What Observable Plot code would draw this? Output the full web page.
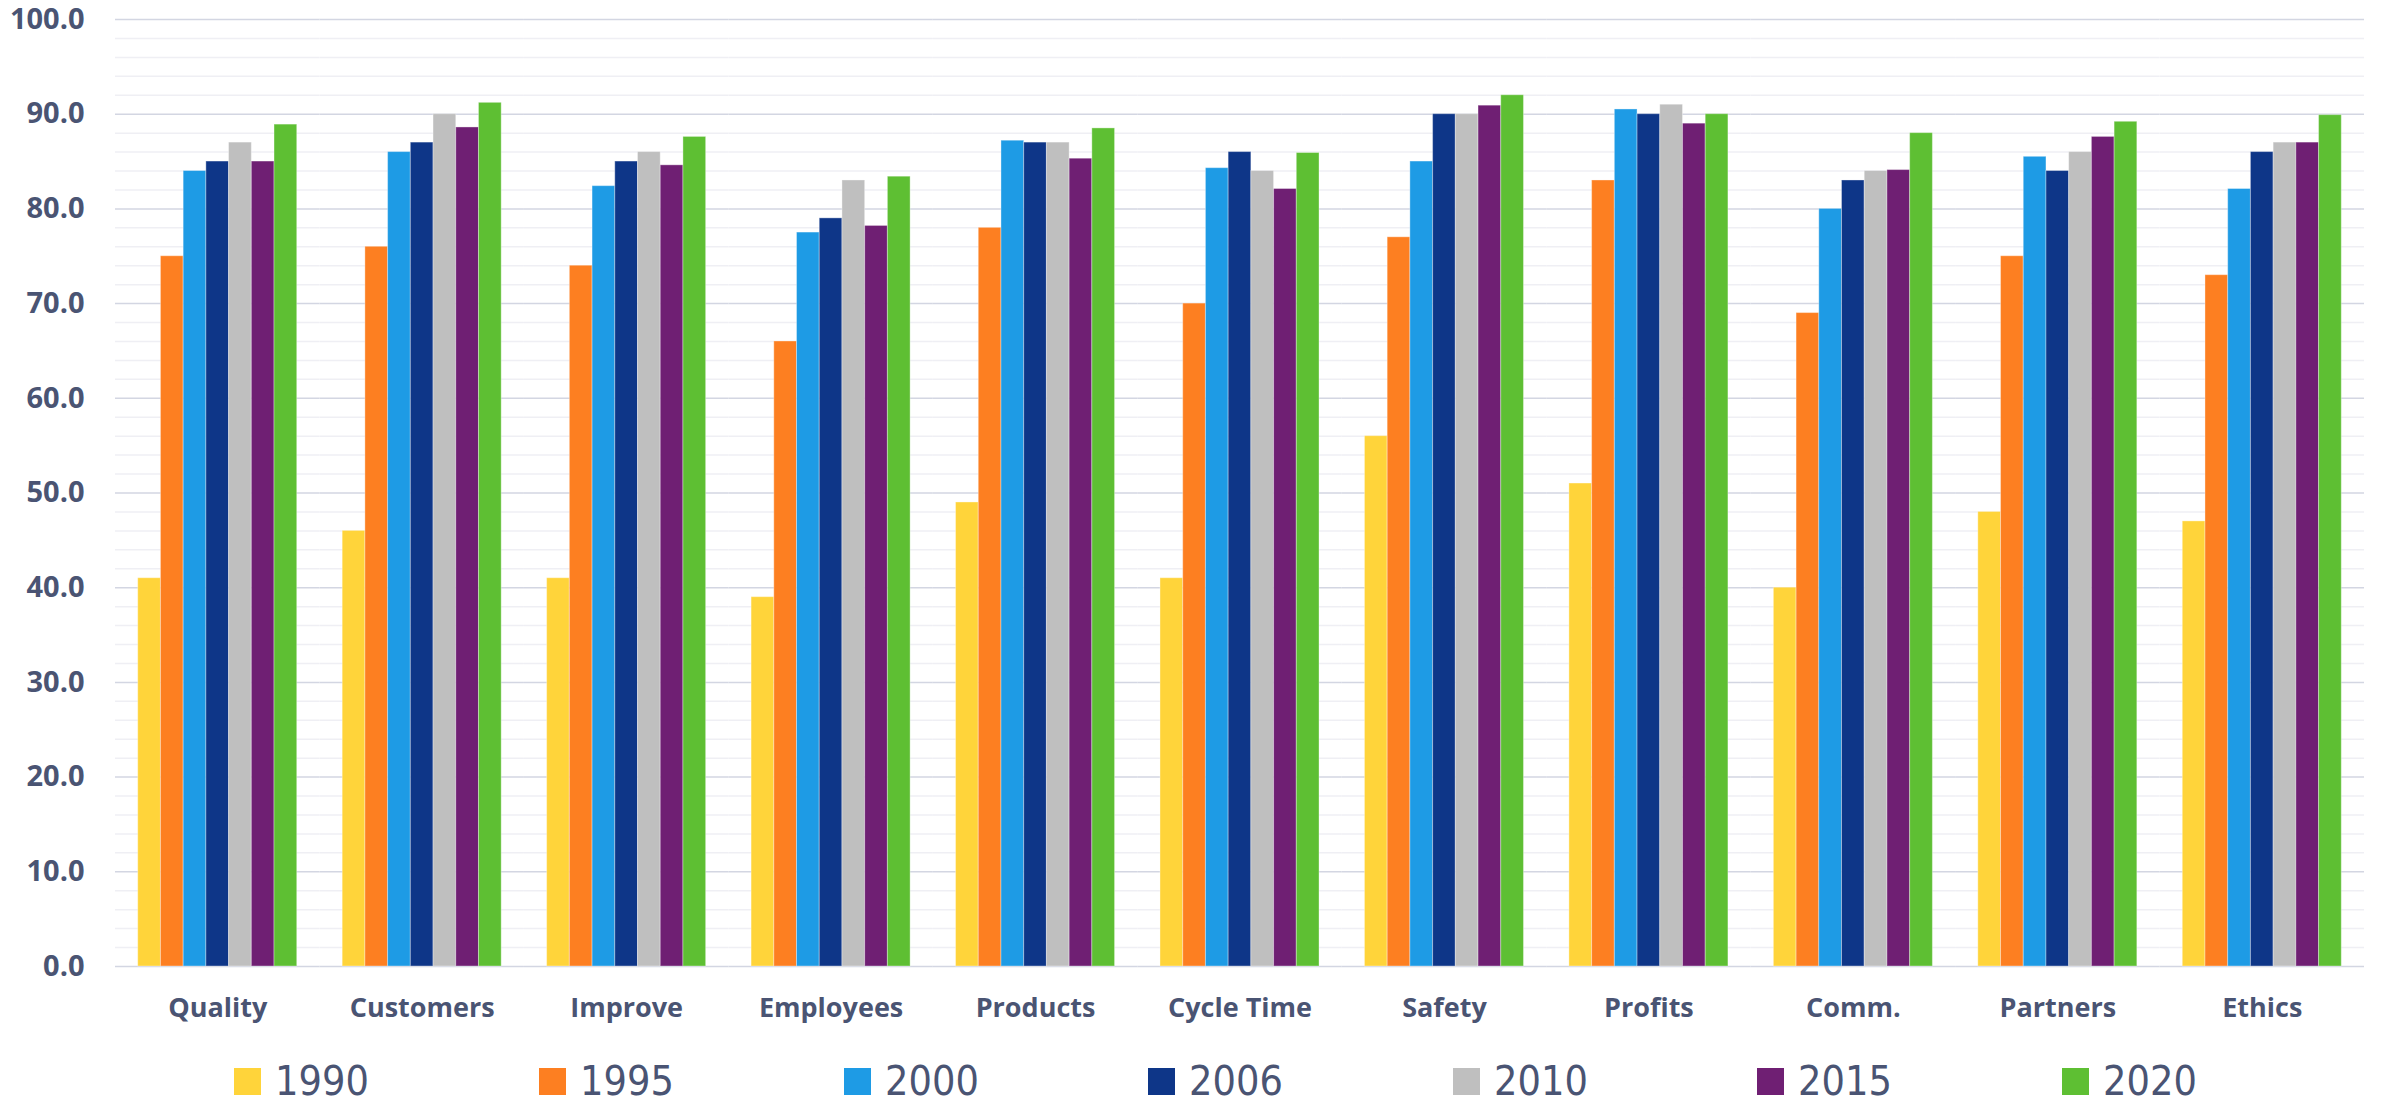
<!DOCTYPE html>
<html>
<head>
<meta charset="utf-8">
<script src="https://cdn.jsdelivr.net/npm/d3@7"></script>
<script src="https://cdn.jsdelivr.net/npm/@observablehq/plot@0.6"></script>
<style>
  html, body { margin: 0; padding: 0; background: #fff; overflow: hidden; }
  #chart svg { display: block; }
  #legend { position: relative; height: 65px; width: 2384px; }
  .item { position: absolute; top: 24px; display: flex; align-items: center; height: 34px; }
  .sw { width: 27px; height: 27px; margin-right: 14px; }
  .lab { display: inline-block; height: 34px; font-family: "Liberation Sans Narrow", "DejaVu Sans Condensed", "Open Sans", sans-serif; font-stretch: condensed; font-size: 41px; color: #4a5473; line-height: 34px; }
</style>
</head>
<body>
<div id="chart"></div>
<div id="legend"></div>
<script>
const categories = ["Quality", "Customers", "Improve", "Employees", "Products", "Cycle Time", "Safety", "Profits", "Comm.", "Partners", "Ethics"];
const years = ["1990", "1995", "2000", "2006", "2010", "2015", "2020"];
const colors = ["#FFD43A", "#FD7F21", "#1E9BE5", "#0E3688", "#BFBFBF", "#6F1F73", "#5EBF33"];

const v1990 = [41, 46, 41, 39, 49, 41, 56, 51, 40, 48, 47];
const v1995 = [75, 76, 74, 66, 78, 70, 77, 83, 69, 75, 73];
const v2000 = [84, 86, 82.4, 77.5, 87.2, 84.3, 85, 90.5, 80, 85.5, 82.1];
const v2006 = [85, 87, 85, 79, 87, 86, 90, 90, 83, 84, 86];
const v2010 = [87, 90, 86, 83, 87, 84, 90, 91, 84, 86, 87];
const v2015 = [85, 88.6, 84.6, 78.2, 85.3, 82.1, 90.9, 89, 84.1, 87.6, 87];
const v2020 = [88.9, 91.2, 87.6, 83.4, 88.5, 85.9, 92, 90, 88, 89.2, 89.9];

const yTicks = [0, 10, 20, 30, 40, 50, 60, 70, 80, 90, 100];
const minorTicks = [2,4,6,8,12,14,16,18,22,24,26,28,32,34,36,38,42,44,46,48,52,54,56,58,62,64,66,68,72,74,76,78,82,84,86,88,92,94,96,98];

const series = [v1990, v1995, v2000, v2006, v2010, v2015, v2020];
const data = categories.flatMap((c, i) => years.map((y, j) => ({category: c, year: y, value: series[j][i]})));

const textColor = "#4a5473";

const chart = Plot.plot({
  width: 2384,
  height: 1040,
  marginLeft: 115,
  marginRight: 20,
  marginTop: 19,
  marginBottom: 74,
  style: {fontFamily: "'Open Sans', sans-serif", background: "#fff", overflow: "visible"},
  fx: {domain: categories, padding: 0, round: false, label: null},
  x: {domain: years, paddingInner: 0, paddingOuter: 1, round: false, axis: null},
  y: {domain: [0, 100], label: null},
  color: {domain: years, range: colors},
  marks: [
    Plot.ruleY(minorTicks, {stroke: "#efeff4", strokeWidth: 1.5}),
    Plot.ruleY(yTicks, {stroke: "#d3d6e2", strokeWidth: 1.5}),
    Plot.barY(data, {fx: "category", x: "year", y: "value", fill: "year", stroke: "#ffffff", strokeOpacity: 0.35, strokeWidth: 1}),
    Plot.axisY({ticks: yTicks, tickFormat: d3.format(".1f"), tickSize: 0, tickPadding: 31, fontSize: 29, fontWeight: "bold", color: textColor, label: null}),
    Plot.axisFx({anchor: "bottom", tickSize: 0, tickPadding: 31, fontSize: 27, fontWeight: "bold", color: textColor, label: null})
  ]
});
document.getElementById("chart").appendChild(chart);

const legend = document.getElementById("legend");
const legendX = [234, 539, 844, 1148, 1453, 1757, 2062];
years.forEach((y, i) => {
  const it = document.createElement("div");
  it.className = "item";
  it.style.left = legendX[i] + "px";
  const sw = document.createElement("div");
  sw.className = "sw";
  sw.style.background = colors[i];
  const lab = document.createElement("span");
  lab.className = "lab";
  lab.textContent = y;
  it.appendChild(sw);
  it.appendChild(lab);
  legend.appendChild(it);
});
</script>
</body>
</html>
